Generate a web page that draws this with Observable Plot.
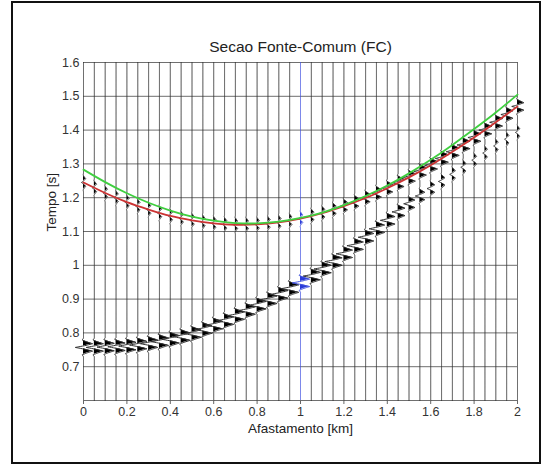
<!DOCTYPE html>
<html><head><meta charset="utf-8">
<script src="https://cdn.jsdelivr.net/npm/d3@7"></script>
<script src="https://cdn.jsdelivr.net/npm/@observablehq/plot@0.6"></script>
<style>
html,body{margin:0;padding:0;background:#fff;}
#wrap{position:relative;width:545px;height:468px;overflow:hidden;background:#fff;}
#border{position:absolute;left:11px;top:1px;width:526px;height:459px;border:2px solid #111;}
#chart{position:absolute;left:0;top:0;}
</style></head><body>
<div id="wrap"><div id="border"></div><div id="chart"></div></div>
<script>
// ---- texts ----
const title = "Secao Fonte-Comum (FC)";
const xLabel = "Afastamento [km]";
const yLabel = "Tempo [s]";
// ---- ticks ----
const xTicks = [0, 0.2, 0.4, 0.6, 0.8, 1, 1.2, 1.4, 1.6, 1.8, 2];
const yTicks = [0.7, 0.8, 0.9, 1, 1.1, 1.2, 1.3, 1.4, 1.5, 1.6];
const yGrid = [0.6, 0.7, 0.8, 0.9, 1, 1.1, 1.2, 1.3, 1.4, 1.5, 1.6];
// ---- trace offsets (km) ----
const offsets = [0, 0.05, 0.1, 0.15, 0.2, 0.25, 0.3, 0.35, 0.4, 0.45, 0.5, 0.55, 0.6, 0.65, 0.7, 0.75, 0.8, 0.85, 0.9, 0.95, 1,
  1.05, 1.1, 1.15, 1.2, 1.25, 1.3, 1.35, 1.4, 1.45, 1.5, 1.55, 1.6, 1.65, 1.7, 1.75, 1.8, 1.85, 1.9, 1.95, 2];
// lower event (strong arrival) time per trace (s)
const lowerT = [0.757, 0.757, 0.758, 0.759, 0.761, 0.764, 0.768, 0.774, 0.781, 0.789, 0.798, 0.810, 0.823, 0.836, 0.851, 0.866, 0.882, 0.898, 0.914, 0.931, 0.948,
  0.968, 0.989, 1.011, 1.034, 1.058, 1.083, 1.108, 1.133, 1.158, 1.182, 1.205, 1.227, 1.248, 1.269, 1.290, 1.311, 1.332, 1.353, 1.373, 1.393];
const lowerA = [1, 1, 1, 1, 1, 1, 1, 1, 1, 1, 1, 1, 1, 1, 1, 1, 1, 1, 1, 1, 1,
  1, 1, 1, 0.95, 0.95, 0.9, 0.9, 0.85, 0.75, 0.65, 0.55, 0.45, 0.38, 0.33, 0.3, 0.28, 0.27, 0.26, 0.25, 0.25];
// upper event (reflection) time per trace (s)
const upperT = [1.245, 1.229, 1.214, 1.200, 1.187, 1.175, 1.165, 1.155, 1.146, 1.139, 1.133, 1.128, 1.124, 1.121, 1.120, 1.120, 1.121, 1.124, 1.127, 1.132, 1.138,
  1.146, 1.154, 1.164, 1.175, 1.186, 1.199, 1.213, 1.228, 1.244, 1.260, 1.278, 1.296, 1.316, 1.336, 1.356, 1.378, 1.400, 1.423, 1.446, 1.470];
const upperA = [0.25, 0.25, 0.25, 0.25, 0.25, 0.25, 0.25, 0.25, 0.25, 0.25, 0.25, 0.25, 0.25, 0.25, 0.25, 0.25, 0.25, 0.25, 0.25, 0.25, 0.25,
  0.3, 0.3, 0.35, 0.4, 0.45, 0.5, 0.55, 0.6, 0.65, 0.7, 0.72, 0.75, 0.75, 0.75, 0.75, 0.75, 0.75, 0.75, 0.7, 0.7];
// wavelet shape read from the wiggles (samples, relative amplitude)
const wavelet = [0, -0.15, 0.35, 1.0, 0.2, -0.9, 0.2, 1.0, 0.35, -0.15, 0];
const waveletStep = 0.0055; // s between wavelet samples
// ---- traveltime curves ----
const curveX = [0, 0.1, 0.2, 0.3, 0.4, 0.5, 0.6, 0.7, 0.8, 0.9, 1, 1.1, 1.2, 1.3, 1.4, 1.5, 1.6, 1.7, 1.8, 1.9, 2];
const redT = [1.245, 1.214, 1.187, 1.165, 1.146, 1.133, 1.124, 1.120, 1.121, 1.127, 1.138, 1.154, 1.175, 1.199, 1.228, 1.260, 1.296, 1.336, 1.378, 1.423, 1.470];
const greenT = [1.283, 1.246, 1.213, 1.185, 1.162, 1.144, 1.132, 1.125, 1.124, 1.129, 1.140, 1.156, 1.178, 1.205, 1.236, 1.272, 1.312, 1.356, 1.403, 1.452, 1.505];
const highlightOffset = 1;

// ---- build wiggle samples ----
const ampScale = 0.042; // km per unit amplitude
const samples = [];
const half = (wavelet.length - 1) / 2;
offsets.forEach((x0, i) => {
  const ev = [[lowerT[i], lowerA[i]], [upperT[i], upperA[i]]];
  for (let k = 0; k <= 1000; k++) {
    const t = 0.6 + k * 0.001;
    let a = 0;
    for (const [te, ae] of ev) {
      const u = (t - te) / waveletStep + half;
      if (u >= 0 && u <= wavelet.length - 1) {
        const j = Math.floor(u), f = u - j;
        const w = j + 1 < wavelet.length ? wavelet[j] * (1 - f) + wavelet[j + 1] * f : wavelet[j];
        a += ae * w;
      }
    }
    samples.push({i, x0, t, xs: x0 + a * ampScale, xp: x0 + Math.max(0, a) * ampScale, hi: x0 === highlightOffset});
  }
});
const curves = curveX.flatMap((x, k) => [{x, t: redT[k], c: "red"}, {x, t: greenT[k], c: "green"}]);

const fmt = d3.format("~g");
const font = "'Liberation Sans', Arial, Helvetica, sans-serif";
const plot = Plot.plot({
  width: 545, height: 468,
  marginLeft: 83, marginRight: 28, marginTop: 62, marginBottom: 68,
  x: {domain: [0, 2]},
  y: {domain: [0.6, 1.6]},
  style: {fontFamily: font, fontSize: "12.5px", color: "#333", background: "transparent"},
  marks: [
    Plot.ruleY(yGrid, {stroke: "#6f6f6f", strokeWidth: 1}),
    Plot.areaX(samples.filter(d => !d.hi), {x1: "x0", x2: "xp", y: "t", z: "i", fill: "#000"}),
    Plot.line(samples.filter(d => !d.hi), {x: "xs", y: "t", z: "i", stroke: "#333", strokeWidth: 1}),
    Plot.areaX(samples.filter(d => d.hi), {x1: "x0", x2: "xp", y: "t", z: "i", fill: "#2a3bd8"}),
    Plot.line(samples.filter(d => d.hi), {x: "xs", y: "t", z: "i", stroke: "#4455e0", strokeWidth: 1}),
    Plot.line(curves.filter(d => d.c === "red"), {x: "x", y: "t", stroke: "#cc3333", strokeWidth: 1.8, curve: "natural"}),
    Plot.line(curves.filter(d => d.c === "green"), {x: "x", y: "t", stroke: "#3fcf3f", strokeWidth: 1.8, curve: "natural"}),
    Plot.axisX(xTicks, {tickSize: 4, tickPadding: 3, label: null, stroke: "#666", fill: "#333", tickFormat: fmt}),
    Plot.axisY(yTicks, {tickSize: 0, tickPadding: 4, label: null, fill: "#333", tickFormat: fmt}),
    Plot.text([title], {frameAnchor: "top", lineAnchor: "middle", dy: -15, fontSize: 15.5, fill: "#222"}),
    Plot.text([xLabel], {frameAnchor: "bottom", lineAnchor: "middle", dy: 28, fontSize: 13.5, fill: "#222"}),
    Plot.text([yLabel], {frameAnchor: "left", lineAnchor: "middle", dx: -32, rotate: -90, fontSize: 13.5, fill: "#222"})
  ]
});
document.getElementById("chart").appendChild(plot);
</script>
</body></html>
